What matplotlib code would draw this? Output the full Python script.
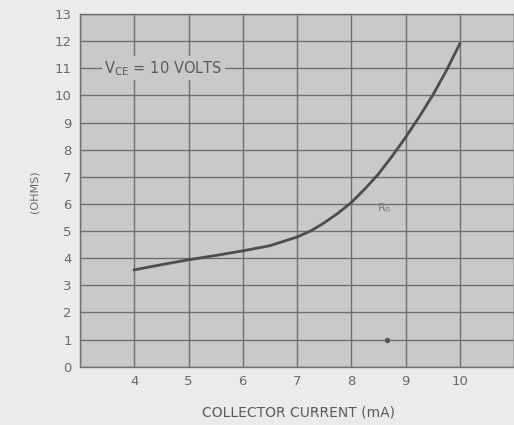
import matplotlib.pyplot as plt

# collector current (mA) vs resistance (ohms)
current_ma = [4.0, 4.5, 5.0, 5.5, 6.0, 6.5, 7.0, 7.25, 7.5, 7.75, 8.0, 8.25, 8.5,
              8.75, 9.0, 9.25, 9.5, 9.75, 10.0]
r_ohms = [3.57, 3.76, 3.94, 4.1, 4.27, 4.46, 4.78, 5.0, 5.3, 5.65, 6.05, 6.55, 7.1,
          7.75, 8.45, 9.2, 10.0, 10.9, 11.9]

x_ticks = [4, 5, 6, 7, 8, 9, 10]
y_ticks = list(range(0, 14))

fig = plt.figure(figsize=(5.14, 4.25), dpi=100)
fig.patch.set_facecolor('#ebebe9')
ax = fig.add_axes([80 / 514, 1 - 366.7 / 425, (514 - 80) / 514, (366.7 - 14) / 425])
ax.set_facecolor('#c9c9c7')

ax.set_xlim(3, 10.99)
ax.set_ylim(0, 13)
ax.set_xticks(range(3, 12))
ax.set_xticklabels([''] + [str(t) for t in x_ticks] + [''])
ax.set_yticks(y_ticks)
ax.tick_params(length=0, colors='#6a6a6a', labelsize=9.5, pad=6)
ax.grid(True, color='#6f6f6f', linewidth=1.0)
ax.set_axisbelow(True)
for s in ax.spines.values():
    s.set_color('#6f6f6f')
    s.set_linewidth(1.0)

ax.plot(current_ma, r_ohms, color='#4d4d4d', linewidth=2.0, solid_joinstyle='round')

# scan speck
ax.plot([8.66], [0.98], 'o', color='#555555', markersize=3)

ax.text(3.45, 11, r'V$_{\mathregular{CE}}$ = 10 VOLTS', fontsize=10.5, color='#5a5a5a',
        va='center', ha='left',
        bbox=dict(facecolor='#c9c9c7', edgecolor='none', pad=2))
ax.text(8.6, 5.85, r'R$_{\mathregular{n}}$', fontsize=8, color='#7a7a7a',
        va='center', ha='center')

fig.text(298 / 514, 1 - 413 / 425, 'COLLECTOR CURRENT (mA)', fontsize=10,
         color='#5a5a5a', ha='center', va='center')
fig.text(35 / 514, 1 - 192 / 425, '(OHMS)', fontsize=8, color='#6a6a6a',
         rotation=90, ha='center', va='center')

fig.savefig('out.png', dpi=100, facecolor=fig.get_facecolor())
